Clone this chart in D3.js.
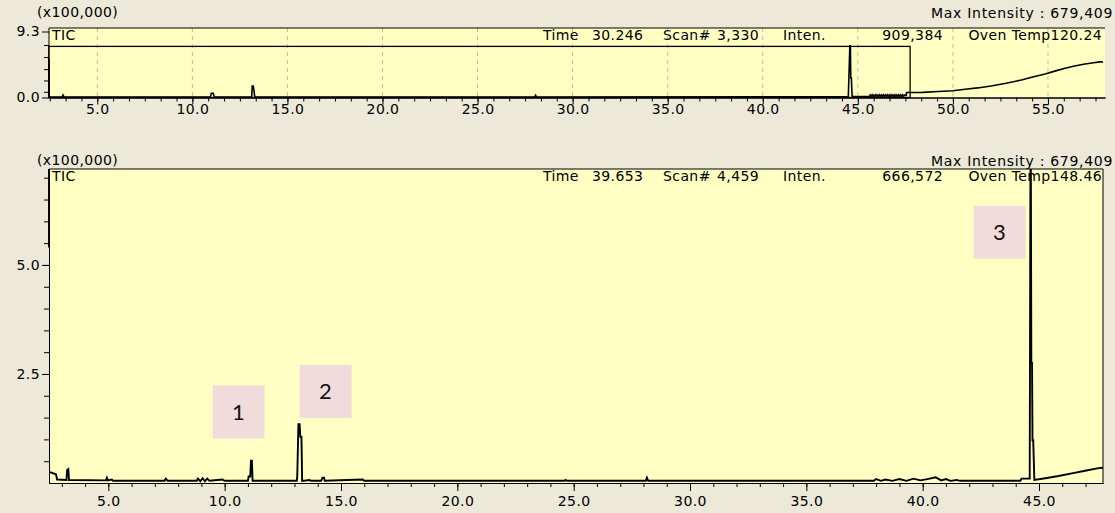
<!DOCTYPE html>
<html>
<head>
<meta charset="utf-8">
<script src="https://cdn.jsdelivr.net/npm/d3@7"></script>
<style>
  body { margin: 0; background: #ECE9D8; }
  svg text { font-family: "DejaVu Sans", sans-serif; font-size: 14px; fill: #000; letter-spacing: 0.4px; }
</style>
</head>
<body>
<svg id="chart" width="1115" height="513"></svg>
<script>
// header readouts, one entry per panel (top, bottom)
const headerTime = ['30.246', '39.653'];
const headerScan = ['3,330', '4,459'];
const headerInten = ['909,384', '666,572'];
const headerOven = ['120.24', '148.46'];
const maxIntensity = '679,409';

// full run trace (minutes, x100,000)
const topTime = [2.46, 2.47, 3.15, 3.2, 3.25, 10.95, 11.0, 11.1, 11.15, 13.12, 13.15, 13.2, 13.24, 13.28,
  28.0, 28.05, 28.1, 44.5, 44.6, 44.63, 44.66, 44.7, 45.6,
  45.65, 45.7, 45.75, 45.8, 45.85, 45.9, 45.95, 46.0, 46.05, 46.1, 46.15, 46.2, 46.25, 46.3, 46.35, 46.4,
  46.45, 46.5, 46.55, 46.6, 46.65, 46.7, 46.75, 46.8, 46.85, 46.9, 46.95, 47.0, 47.05, 47.1, 47.15, 47.2,
  47.25, 47.3, 47.35, 47.4, 47.45, 47.5,
  47.55, 47.56, 48.4, 49.23, 50.0, 50.65, 51.3, 52.0, 52.8, 53.6, 54.2, 54.85, 55.4, 55.9, 56.4, 56.95, 57.4, 57.73, 57.9];
const topInten = [5.5, 0.1, 0.08, 0.35, 0.08, 0.08, 0.6, 0.6, 0.08, 0.1, 1.6, 1.6, 1.0, 0.08,
  0.08, 0.3, 0.08, 0.1, 9.09, 2.75, 2.75, 0.15, 0.15,
  0.35, 0.15, 0.38, 0.14, 0.36, 0.16, 0.38, 0.15, 0.36, 0.14, 0.38, 0.16, 0.36, 0.15, 0.38, 0.14,
  0.36, 0.16, 0.38, 0.15, 0.36, 0.14, 0.38, 0.16, 0.36, 0.15, 0.38, 0.14, 0.36, 0.16, 0.38, 0.15,
  0.36, 0.14, 0.38, 0.16, 0.36, 0.3,
  0.3, 0.7, 0.72, 0.84, 0.95, 1.17, 1.35, 1.63, 2.0, 2.47, 2.9, 3.31, 3.75, 4.12, 4.45, 4.71, 4.9, 5.02, 5.0];

// zoomed trace (null = gap)
const botTime = [2.45, 2.451, 2.46, 2.49, 2.75, 2.8, 3.2, 3.23, 3.28, 3.31, 4.9, 4.94, 4.98, 5.15, 5.2,
  7.42, 7.47, 7.55, 8.8, 8.85, 8.95, 9.05, 9.15, 9.25, 9.35, 9.9, 10.0,
  11.0, 11.03, 11.1, 11.13, 11.17, 11.2, 13.1, 13.12, 13.17, 13.22, 13.25, 13.3, 13.33, 13.65, 13.7,
  14.15, 14.2, 14.27, 14.3, 15.93, 16.0, 24.6, 24.65, 24.7, 28.1, 28.15, 28.2,
  37.9, 38.0, 38.2, 38.4, 38.7, 39.0, 39.3, 39.6, 39.9, 40.2, 40.56, 40.8, 41.0, 41.2, 41.46, 41.6,
  44.2, 44.25, 44.6, 44.64, 44.67, 44.7, 44.72, 44.75, 44.8, 45.27, 45.84, 46.41, 46.98, 47.56, 47.75];
const botInten = [9.0, 5.4, null, 0.25, 0.2, 0.08, 0.07, 0.3, 0.32, 0.07, 0.06, 0.12, 0.06, 0.08, 0.05,
  0.05, 0.1, 0.05, 0.05, 0.1, 0.04, 0.11, 0.04, 0.1, 0.05, 0.08, 0.05,
  0.05, 0.15, 0.15, 0.51, 0.51, 0.05, 0.05, 0.15, 1.35, 1.35, 1.06, 1.06, 0.05, 0.07, 0.05,
  0.05, 0.12, 0.12, 0.05, 0.08, 0.05, 0.05, 0.07, 0.05, 0.05, 0.12, 0.05,
  0.05, 0.09, 0.05, 0.08, 0.05, 0.09, 0.05, 0.1, 0.06, 0.09, 0.13, 0.06, 0.09, 0.05, 0.07, 0.05,
  0.05, 0.1, 0.1, 9.09, 2.75, 2.75, 0.98, 0.98, 0.07, 0.11, 0.16, 0.22, 0.28, 0.34, 0.35];

// peak markers
const annoLabels = ['1', '2', '3'];
const annoTime = [10.6, 14.34, 43.31];
const annoInten = [1.63, 2.1, 5.75];

const svg = d3.select('#chart');
const yellow = '#FFFFC4';

const topX = d3.scaleLinear().domain([2.46, 58.0]).range([49, 1105]);
const topY = d3.scaleLinear().domain([0, 9.3]).range([97.5, 31.5]);
const botX = d3.scaleLinear().domain([2.45, 47.75]).range([49, 1103]);
const botY = d3.scaleLinear().domain([0, 7.2]).range([483, 169]);

const tTop = 28, tBot = 97.5;

svg.append('defs').call(function(d) {
  d.append('clipPath').attr('id', 'clipTop').append('rect')
    .attr('x', 47).attr('y', tTop).attr('width', 1105 - 47).attr('height', tBot - tTop);
  d.append('clipPath').attr('id', 'clipBot').append('rect')
    .attr('x', 47).attr('y', 169).attr('width', 1103 - 47).attr('height', 483 - 169);
});

// ---------- top panel ----------
svg.append('rect').attr('x', 49).attr('y', tTop).attr('width', 1105 - 49).attr('height', tBot - tTop).attr('fill', yellow);

const topLine = d3.line().x(function(d, i) { return topX(topTime[i]); }).y(function(d) { return topY(d); });
svg.append('path').datum(topInten).attr('d', topLine).attr('clip-path', 'url(#clipTop)')
  .attr('fill', 'none').attr('stroke', '#000').attr('stroke-width', 1.6);

// header band covers the trace
svg.append('rect').attr('x', 51).attr('y', tTop + 1).attr('width', 1105 - 51).attr('height', 16).attr('fill', yellow);

svg.append('g').selectAll('line').data(d3.range(5, 56, 5)).enter().append('line')
  .attr('x1', function(d) { return topX(d); }).attr('x2', function(d) { return topX(d); })
  .attr('y1', tTop).attr('y2', tBot)
  .attr('stroke', '#BDBDA8').attr('stroke-dasharray', '4,4');

// zoom window of the lower panel
svg.append('rect')
  .attr('x', topX(botX.domain()[0])).attr('y', topY(botY.domain()[1]))
  .attr('width', topX(botX.domain()[1]) - topX(botX.domain()[0]))
  .attr('height', topY(0) - topY(botY.domain()[1]))
  .attr('fill', 'none').attr('stroke', '#000').attr('stroke-width', 1.3);

svg.append('line').attr('x1', 49).attr('x2', 1105).attr('y1', tTop).attr('y2', tTop).attr('stroke', '#000');

function styleAxis(g) {
  g.attr('font-family', 'DejaVu Sans').attr('font-size', 14);
  g.selectAll('path,line').attr('stroke', '#000');
}

svg.append('g').attr('transform', 'translate(0,' + tBot + ')')
  .call(d3.axisBottom(topX).tickValues(d3.range(2.5, 58, 5 / 6)).tickSize(4).tickSizeOuter(0).tickFormat(''))
  .call(styleAxis);
svg.append('g').attr('transform', 'translate(0,' + tBot + ')')
  .call(d3.axisBottom(topX).tickValues(d3.range(5, 56, 5)).tickSize(7).tickSizeOuter(0).tickPadding(0).tickFormat(d3.format('.1f')))
  .call(styleAxis);
svg.append('g').attr('transform', 'translate(49,0)')
  .call(d3.axisLeft(topY).tickValues([0.8, 2.4, 4.0, 5.7, 7.4]).tickSize(5).tickSizeOuter(0).tickFormat(''))
  .call(function(g) { g.select('.domain').remove(); })
  .call(styleAxis);
svg.append('g').attr('transform', 'translate(49,0)')
  .call(d3.axisLeft(topY).tickValues([0, 9.3]).tickSize(7).tickSizeOuter(0).tickPadding(2).tickFormat(d3.format('.1f')))
  .call(function(g) { g.select('.domain').remove(); })
  .call(styleAxis);
svg.append('line').attr('x1', 49).attr('x2', 49).attr('y1', tTop).attr('y2', tBot).attr('stroke', '#000');

// ---------- bottom panel ----------
svg.append('rect').attr('x', 49).attr('y', 169).attr('width', 1103 - 49).attr('height', 483 - 169).attr('fill', yellow);

const botLine = d3.line().defined(function(d) { return d != null; })
  .x(function(d, i) { return botX(botTime[i]); }).y(function(d) { return botY(d); });
svg.append('path').datum(botInten).attr('d', botLine).attr('clip-path', 'url(#clipBot)')
  .attr('fill', 'none').attr('stroke', '#000').attr('stroke-width', 1.9);

svg.append('path').attr('d', 'M49,169H1103V483').attr('fill', 'none').attr('stroke', '#000');

svg.append('g').attr('transform', 'translate(0,483)')
  .call(d3.axisBottom(botX).tickValues(d3.range(3, 48, 1)).tickSize(4).tickSizeOuter(0).tickFormat(''))
  .call(styleAxis);
svg.append('g').attr('transform', 'translate(0,483)')
  .call(d3.axisBottom(botX).tickValues(d3.range(5, 46, 5)).tickSize(8).tickSizeOuter(0).tickPadding(5).tickFormat(d3.format('.1f')))
  .call(styleAxis);
svg.append('g').attr('transform', 'translate(49,0)')
  .call(d3.axisLeft(botY).tickValues(d3.range(0.5, 7.1, 0.5)).tickSize(5).tickSizeOuter(0).tickFormat(''))
  .call(function(g) { g.select('.domain').remove(); })
  .call(styleAxis);
svg.append('g').attr('transform', 'translate(49,0)')
  .call(d3.axisLeft(botY).tickValues([2.5, 5.0]).tickSize(7).tickSizeOuter(0).tickPadding(2).tickFormat(d3.format('.1f')))
  .call(styleAxis);

// ---------- texts ----------
const headerBase = [40, 181];
const unitBase = [17, 165];
headerBase.forEach(function(y, i) {
  const g = svg.append('g');
  g.append('text').attr('x', 52).attr('y', y).text('TIC');
  g.append('text').attr('x', 543).attr('y', y).text('Time');
  g.append('text').attr('x', 592).attr('y', y).text(headerTime[i]);
  g.append('text').attr('x', 663).attr('y', y).text('Scan#');
  g.append('text').attr('x', 717).attr('y', y).text(headerScan[i]);
  g.append('text').attr('x', 783).attr('y', y).text('Inten.');
  g.append('text').attr('x', 943).attr('y', y).attr('text-anchor', 'end').text(headerInten[i]);
  g.append('text').attr('x', 1102).attr('y', y).attr('text-anchor', 'end').text('Oven Temp' + headerOven[i]);
  g.append('text').attr('x', 37).attr('y', unitBase[i]).text('(x100,000)');
  g.append('text').attr('x', 1113).attr('y', unitBase[i] + 1).attr('text-anchor', 'end')
    .style('letter-spacing', '0.7px').text('Max Intensity : ' + maxIntensity);
});

// peak labels
const boxW = 52, boxH = 53;
const anno = svg.append('g').selectAll('g').data(annoLabels).enter().append('g')
  .attr('transform', function(d, i) { return 'translate(' + botX(annoTime[i]) + ',' + botY(annoInten[i]) + ')'; });
anno.append('rect').attr('x', -boxW / 2).attr('y', -boxH / 2).attr('width', boxW).attr('height', boxH).attr('fill', '#F2DCDB');
anno.append('text').attr('text-anchor', 'middle').attr('dy', '0.36em')
  .style('font-family', 'Lato, "Open Sans", sans-serif').style('font-size', '22px').style('fill', '#111')
  .text(function(d) { return d; });
</script>
</body>
</html>
